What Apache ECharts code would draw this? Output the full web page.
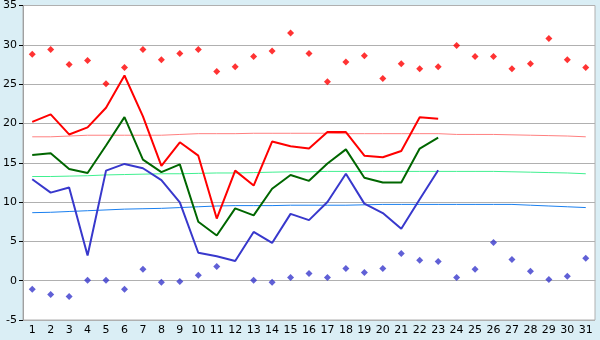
<!DOCTYPE html>
<html>
<head>
<meta charset="utf-8">
<script src="https://cdn.jsdelivr.net/npm/echarts@6/dist/echarts.min.js"></script>
<style>
  html, body { margin: 0; padding: 0; background: #daeef5; }
  #chart { width: 600px; height: 340px; }
</style>
</head>
<body>
<div id="chart"></div>
<script>
var days = ['1','2','3','4','5','6','7','8','9','10','11','12','13','14','15','16','17','18','19','20','21','22','23','24','25','26','27','28','29','30','31'];

// daily high / mean / low (first 23 days)
var highLine = [20.2, 21.15, 18.6, 19.5, 22.0, 26.1, 20.9, 14.6, 17.6, 15.9, 7.9, 14.0, 12.1, 17.7, 17.1, 16.8, 18.9, 18.9, 15.9, 15.7, 16.5, 20.8, 20.6];
var meanLine = [16.0, 16.2, 14.2, 13.7, 17.2, 20.8, 15.4, 13.8, 14.8, 7.5, 5.75, 9.2, 8.3, 11.7, 13.45, 12.7, 14.9, 16.7, 13.1, 12.5, 12.5, 16.8, 18.2];
var lowLine = [12.9, 11.2, 11.85, 3.2, 14.0, 14.85, 14.3, 12.8, 9.95, 3.55, 3.1, 2.5, 6.2, 4.8, 8.5, 7.7, 10.0, 13.6, 9.8, 8.6, 6.6, 10.35, 14.05];

// record max / min dots
var maxDots = [28.8, 29.4, 27.5, 28.0, 25.05, 27.1, 29.4, 28.1, 28.9, 29.4, 26.6, 27.2, 28.5, 29.2, 31.5, 28.9, 25.3, 27.8, 28.6, 25.7, 27.6, 26.95, 27.2, 29.9, 28.5, 28.5, 26.95, 27.6, 30.8, 28.1, 27.1];
var minDots = [-1.1, -1.75, -2.0, 0.05, 0.05, -1.1, 1.45, -0.2, -0.1, 0.7, 1.8, null, 0.05, -0.2, 0.4, 0.9, 0.4, 1.55, 1.05, 1.55, 3.45, 2.6, 2.45, 0.4, 1.45, 4.85, 2.7, 1.2, 0.15, 0.55, 2.85];

// normals
var normHigh = [18.3, 18.3, 18.4, 18.5, 18.5, 18.5, 18.5, 18.5, 18.6, 18.7, 18.7, 18.7, 18.75, 18.75, 18.75, 18.75, 18.75, 18.7, 18.7, 18.7, 18.7, 18.7, 18.7, 18.6, 18.6, 18.6, 18.55, 18.5, 18.45, 18.4, 18.3];
var normMean = [13.25, 13.25, 13.3, 13.35, 13.45, 13.5, 13.55, 13.6, 13.6, 13.65, 13.7, 13.7, 13.75, 13.8, 13.85, 13.85, 13.9, 13.9, 13.9, 13.9, 13.9, 13.9, 13.9, 13.9, 13.9, 13.9, 13.85, 13.8, 13.75, 13.7, 13.6];
var normLow = [8.65, 8.7, 8.8, 8.9, 9.0, 9.1, 9.15, 9.2, 9.3, 9.4, 9.5, 9.55, 9.55, 9.55, 9.6, 9.6, 9.6, 9.6, 9.65, 9.7, 9.7, 9.7, 9.7, 9.7, 9.7, 9.7, 9.7, 9.6, 9.5, 9.4, 9.3];

var chart = echarts.init(document.getElementById('chart'));

function thinLine(data, color) {
  return {
    type: 'line', data: data, symbol: 'none', silent: true,
    lineStyle: { color: color, width: 1 }
  };
}
function thickLine(data, color) {
  return {
    type: 'line', data: data, symbol: 'none', silent: true,
    lineStyle: { color: color, width: 2 }
  };
}
function dots(data, color) {
  return {
    type: 'scatter', data: data, symbol: 'diamond', symbolSize: 7,
    itemStyle: { color: color }
  };
}

chart.setOption({
  backgroundColor: '#daeef5',
  animation: false,
  grid: {
    left: 20, right: 5, top: 5, bottom: 20,
    show: true, backgroundColor: '#ffffff', borderColor: '#b0b0b0', borderWidth: 1
  },
  xAxis: {
    type: 'category',
    data: days,
    boundaryGap: true,
    axisLine: { lineStyle: { color: '#b0b0b0' } },
    axisTick: { alignWithLabel: true, length: 4, lineStyle: { color: '#000' } },
    axisLabel: { color: '#000', fontFamily: 'DejaVu Sans', fontSize: 11, margin: 5, interval: 0 },
    splitLine: { show: false }
  },
  yAxis: {
    type: 'value',
    min: -5, max: 35, interval: 5,
    axisLine: { show: true, lineStyle: { color: '#a0a0a0' } },
    axisTick: { show: true, length: 4, lineStyle: { color: '#000' } },
    axisLabel: { color: '#000', fontFamily: 'DejaVu Sans', fontSize: 11, margin: 6 },
    splitLine: { lineStyle: { color: '#b0b0b0' } }
  },
  series: [
    thinLine(normHigh, '#ff8080'),
    thinLine(normMean, '#40f090'),
    thinLine(normLow, '#1a80f0'),
    thickLine(highLine, '#ff0000'),
    thickLine(meanLine, '#006600'),
    thickLine(lowLine, '#3838cc'),
    dots(maxDots, '#ff0000'),
    dots(minDots, '#3838cc')
  ]
});
</script>
</body>
</html>
